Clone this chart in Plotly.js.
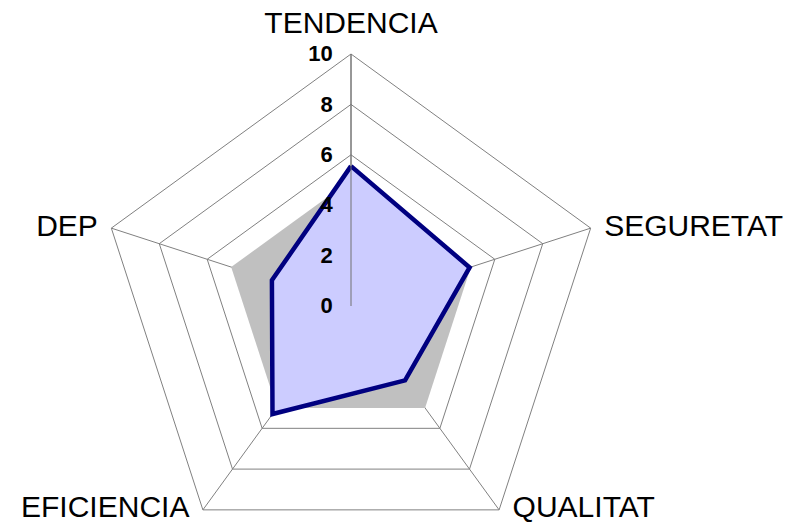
<!DOCTYPE html>
<html>
<head>
<meta charset="utf-8">
<script src="https://cdn.plot.ly/plotly-3.0.1.min.js"></script>
<style>
html, body { margin:0; padding:0; width:806px; height:531px; overflow:hidden; background:#fff; }
#chart { width:806px; height:600px; }
</style>
</head>
<body>
<div id="chart"></div>
<script>
var categories = ["TENDENCIA", "SEGURETAT", "QUALITAT", "EFICIENCIA", "DEP"];
var referenceValues = [5, 5, 5, 5, 5];
var actualValues = [5.55, 4.95, 3.65, 5.3, 3.3];
var radialTicks = [0, 2, 4, 6, 8, 10];
var labelPositions = ["top center", "middle right", "middle right", "middle left", "middle left"];

function closeLoop(arr) { return arr.concat([arr[0]]); }

var traces = [
  {
    type: "scatterpolar",
    r: closeLoop(referenceValues),
    theta: closeLoop(categories),
    mode: "lines",
    fill: "toself",
    fillcolor: "#C0C0C0",
    line: { color: "rgba(0,0,0,0)", width: 0 },
    hoverinfo: "skip"
  },
  {
    type: "scatterpolar",
    r: closeLoop(actualValues),
    theta: closeLoop(categories),
    mode: "lines",
    fill: "toself",
    fillcolor: "#CCCCFF",
    line: { color: "#000080", width: 4.5 },
    hoverinfo: "skip"
  },
  {
    type: "scatterpolar",
    r: categories.map(function () { return 10; }),
    theta: categories,
    mode: "markers+text",
    marker: { size: 20, opacity: 0 },
    text: categories,
    textposition: labelPositions,
    textfont: { size: 30, family: "Liberation Sans, Arial, sans-serif", color: "#000" },
    cliponaxis: false,
    hoverinfo: "skip"
  }
];

var H = 600;
var cx = 351, cy = 306, R = 252;
var layout = {
  width: 806,
  height: H,
  margin: { l: 0, r: 0, t: 0, b: 0 },
  paper_bgcolor: "#ffffff",
  showlegend: false,
  font: { family: "Liberation Sans, Arial, sans-serif", color: "#000" },
  polar: {
    domain: {
      x: [(cx - R) / 806, (cx + R) / 806],
      y: [(H - (cy + R)) / H, (H - (cy - R)) / H]
    },
    bgcolor: "#ffffff",
    gridshape: "linear",
    angularaxis: {
      type: "category",
      categoryarray: categories,
      direction: "clockwise",
      rotation: 90,
      showline: true,
      linecolor: "#808080",
      linewidth: 1,
      showgrid: true,
      gridcolor: "#808080",
      gridwidth: 1,
      ticks: "",
      showticklabels: false
    },
    radialaxis: {
      range: [0, 10],
      tickvals: radialTicks,
      ticktext: radialTicks.map(String),
      angle: 90,
      tickangle: 90,
      side: "counterclockwise",
      showline: true,
      linecolor: "#707070",
      linewidth: 1,
      showgrid: true,
      gridcolor: "#808080",
      gridwidth: 1,
      ticks: "outside",
      ticklen: 10,
      tickcolor: "rgba(0,0,0,0)",
      tickfont: { size: 22, family: "Liberation Sans, Arial, sans-serif", color: "#000", weight: "bold" }
    }
  }
};

Plotly.newPlot("chart", traces, layout, { staticPlot: true, displayModeBar: false });
</script>
</body>
</html>
